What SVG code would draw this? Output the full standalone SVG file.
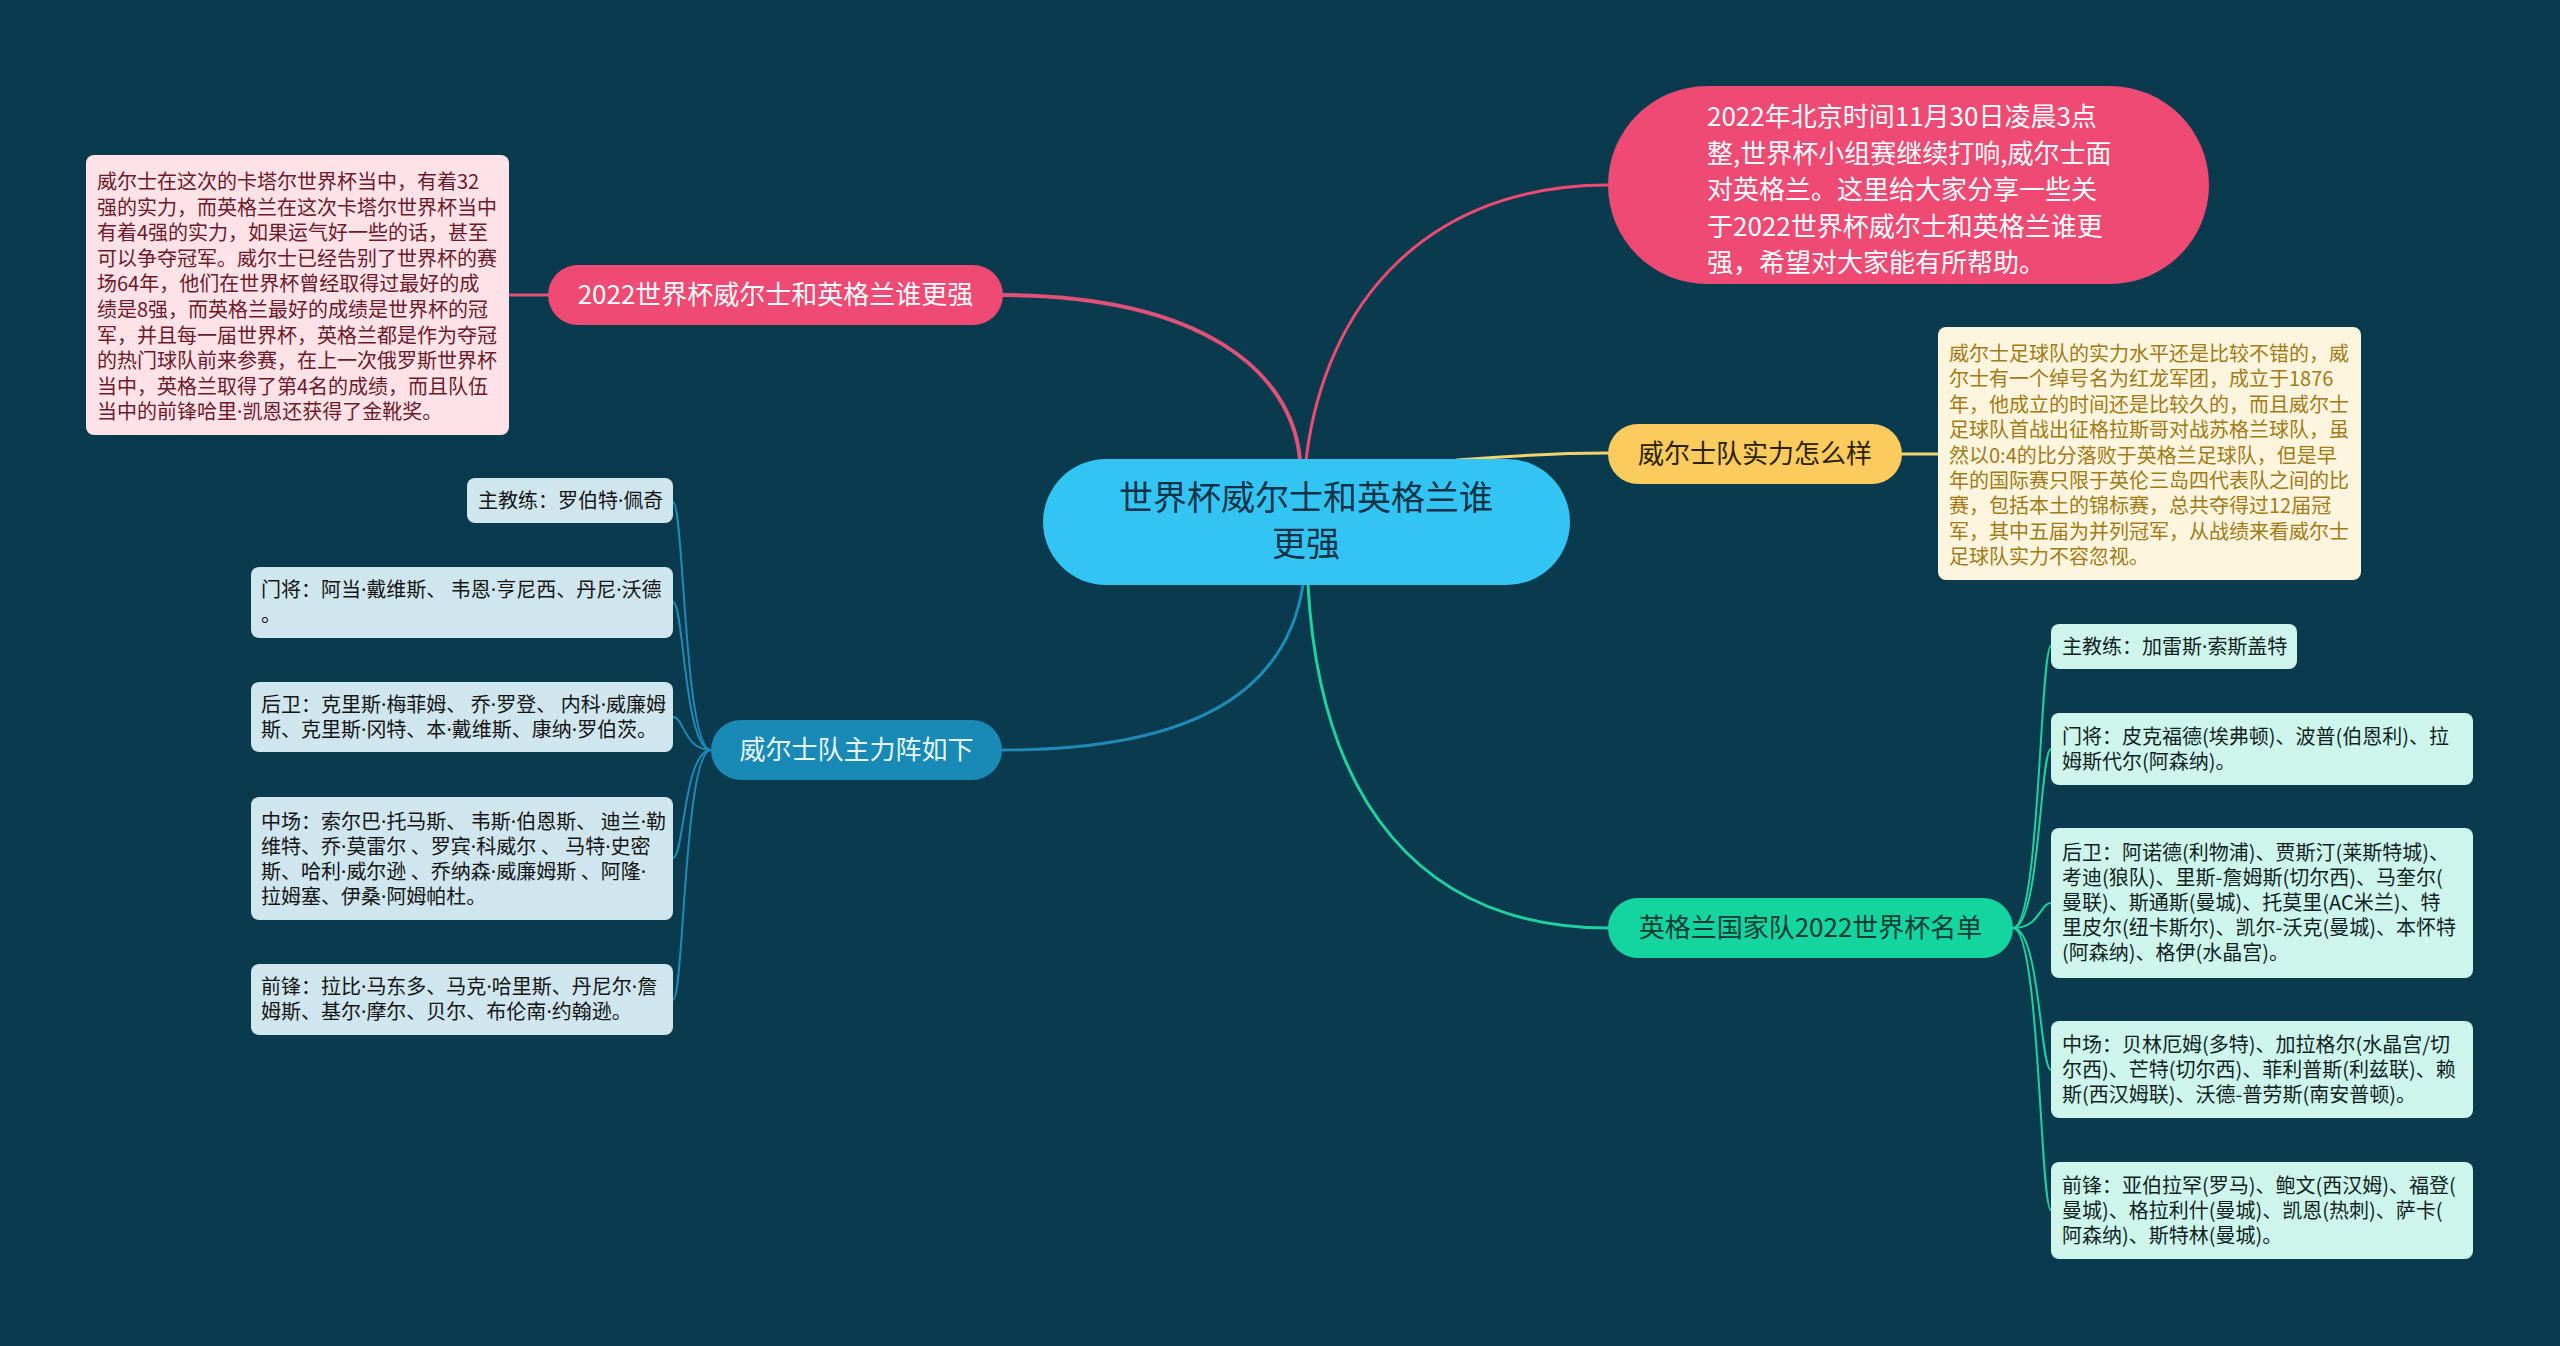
<svg xmlns="http://www.w3.org/2000/svg" width="2560" height="1346" viewBox="0 0 2560 1346">
<style>
text{font-family:"Noto Sans CJK SC","Noto Sans",sans-serif;}
.d{font-family:"Noto Sans","Liberation Sans",sans-serif;}
.t20{font-size:20px;}
.t26{font-size:26px;}
.lb{fill:#cfe6ef;}
.lbt{fill:#141414;}
.rb{fill:#cdf5ec;}
.rbt{fill:#0f1f1f;}
.sub{fill:none;stroke-width:2;}
</style>
<rect x="0" y="0" width="2560" height="1346" fill="#093a4d"/>
<g id="connectors" fill="none" stroke-linecap="round">
  <path d="M1003,295 C1200,296 1292,370 1300,460" stroke="#e0527a" stroke-width="4"/>
  <path d="M1306,460 C1325,300 1430,185 1608,185" stroke="#ee4a73" stroke-width="3"/>
  <path d="M1457,460 C1520,455 1560,453 1608,453" stroke="#f3d36f" stroke-width="3"/>
  <path d="M1303,585 C1285,700 1180,750 1002,750" stroke="#1e8ab6" stroke-width="3"/>
  <path d="M1308,585 C1320,800 1420,928 1609,928" stroke="#1ed2a0" stroke-width="3"/>
  <path d="M548,295 L509,295" stroke="#e0527a" stroke-width="3"/>
  <path d="M1902,454 L1938,454" stroke="#f3d36f" stroke-width="3"/>
  <g class="sub" stroke="#1e8ab6">
    <path d="M711,750 C684,750 684,502 673,502"/>
    <path d="M711,750 C684,750 684,602 673,602"/>
    <path d="M711,750 C684,750 684,717 673,717"/>
    <path d="M711,750 C684,750 684,858 673,858"/>
    <path d="M711,750 C684,750 684,1000 673,1000"/>
  </g>
  <g class="sub" stroke="#1ed2a0">
    <path d="M2013,928 C2040,928 2040,646 2051,646"/>
    <path d="M2013,928 C2040,928 2040,749 2051,749"/>
    <path d="M2013,928 C2040,928 2040,903 2051,903"/>
    <path d="M2013,928 C2040,928 2040,1070 2051,1070"/>
    <path d="M2013,928 C2040,928 2040,1210 2051,1210"/>
  </g>
</g>
<g id="center">
  <rect x="1043" y="459" width="527" height="126" rx="63" fill="#32c5f4"/>
  <text x="1306" y="510" font-size="34" text-anchor="middle" fill="#0e3347">世界杯威尔士和英格兰谁</text>
  <text x="1306" y="556" font-size="34" text-anchor="middle" fill="#0e3347">更强</text>
</g>
<g id="node-2022">
  <rect x="548" y="265" width="455" height="60" rx="30" fill="#ee4a73"/>
  <text class="t26" x="775.5" y="304" text-anchor="middle" fill="#ffffff">2022世界杯威尔士和英格兰谁更强</text>
</g>
<g id="node-2022-detail">
  <rect x="86" y="155" width="423" height="280" rx="8" fill="#fde2e7"/>
  <text class="t20" fill="#6d1a2c">
    <tspan x="97" y="189">威尔士在这次的卡塔尔世界杯当中，有着32</tspan>
    <tspan x="97" y="214.6">强的实力，而英格兰在这次卡塔尔世界杯当中</tspan>
    <tspan x="97" y="240.2">有着4强的实力，如果运气好一些的话，甚至</tspan>
    <tspan x="97" y="265.8">可以争夺冠军。威尔士已经告别了世界杯的赛</tspan>
    <tspan x="97" y="291.4">场64年，他们在世界杯曾经取得过最好的成</tspan>
    <tspan x="97" y="317">绩是8强，而英格兰最好的成绩是世界杯的冠</tspan>
    <tspan x="97" y="342.6">军，并且每一届世界杯，英格兰都是作为夺冠</tspan>
    <tspan x="97" y="368.2">的热门球队前来参赛，在上一次俄罗斯世界杯</tspan>
    <tspan x="97" y="393.8">当中，英格兰取得了第4名的成绩，而且队伍</tspan>
    <tspan x="97" y="419.4">当中的前锋哈里<tspan class="d">·</tspan>凯恩还获得了金靴奖。</tspan>
  </text>
</g>
<g id="node-intro">
  <rect x="1608" y="86" width="601" height="198" rx="99" fill="#ee4a73"/>
  <text class="t26" fill="#ffffff">
    <tspan x="1707" y="126">2022年北京时间11月30日凌晨3点</tspan>
    <tspan x="1707" y="162.5">整,世界杯小组赛继续打响,威尔士面</tspan>
    <tspan x="1707" y="199">对英格兰。这里给大家分享一些关</tspan>
    <tspan x="1707" y="235.5">于2022世界杯威尔士和英格兰谁更</tspan>
    <tspan x="1707" y="272">强，希望对大家能有所帮助。</tspan>
  </text>
</g>
<g id="node-strength">
  <rect x="1608" y="424" width="294" height="60" rx="30" fill="#fbcb5e"/>
  <text class="t26" x="1755" y="463" text-anchor="middle" fill="#2b2000">威尔士队实力怎么样</text>
</g>
<g id="node-strength-detail">
  <rect x="1938" y="327" width="423" height="253" rx="8" fill="#fdf5dd"/>
  <text class="t20" fill="#a27b16">
    <tspan x="1949" y="361">威尔士足球队的实力水平还是比较不错的，威</tspan>
    <tspan x="1949" y="386.4">尔士有一个绰号名为红龙军团，成立于1876</tspan>
    <tspan x="1949" y="411.8">年，他成立的时间还是比较久的，而且威尔士</tspan>
    <tspan x="1949" y="437.2">足球队首战出征格拉斯哥对战苏格兰球队，虽</tspan>
    <tspan x="1949" y="462.6">然以0:4的比分落败于英格兰足球队，但是早</tspan>
    <tspan x="1949" y="488">年的国际赛只限于英伦三岛四代表队之间的比</tspan>
    <tspan x="1949" y="513.4">赛，包括本土的锦标赛，总共夺得过12届冠</tspan>
    <tspan x="1949" y="538.8">军，其中五届为并列冠军，从战绩来看威尔士</tspan>
    <tspan x="1949" y="564.2">足球队实力不容忽视。</tspan>
  </text>
</g>
<g id="node-wales">
  <rect x="711" y="720" width="291" height="60" rx="30" fill="#1989b5"/>
  <text class="t26" x="856.5" y="759" text-anchor="middle" fill="#e6f6ff">威尔士队主力阵如下</text>
</g>
<g id="wales-coach">
  <rect class="lb" x="467" y="478" width="206" height="45" rx="8"/>
  <text class="t20 lbt" x="478" y="507.5">主教练：罗伯特<tspan class="d">·</tspan>佩奇</text>
</g>
<g id="wales-gk">
  <rect class="lb" x="251" y="567" width="422" height="71" rx="8"/>
  <text class="t20 lbt"><tspan x="261" y="597">门将：阿当<tspan class="d">·</tspan>戴维斯、 韦恩<tspan class="d">·</tspan>亨尼西、丹尼<tspan class="d">·</tspan>沃德</tspan><tspan x="261" y="622">。</tspan></text>
</g>
<g id="wales-df">
  <rect class="lb" x="251" y="682" width="422" height="70" rx="8"/>
  <text class="t20 lbt"><tspan x="261" y="711.5">后卫：克里斯<tspan class="d">·</tspan>梅菲姆、 乔<tspan class="d">·</tspan>罗登、 内科<tspan class="d">·</tspan>威廉姆</tspan><tspan x="261" y="736.5">斯、克里斯<tspan class="d">·</tspan>冈特、本<tspan class="d">·</tspan>戴维斯、康纳<tspan class="d">·</tspan>罗伯茨。</tspan></text>
</g>
<g id="wales-mf">
  <rect class="lb" x="251" y="797" width="422" height="123" rx="8"/>
  <text class="t20 lbt"><tspan x="261" y="828.5">中场：索尔巴<tspan class="d">·</tspan>托马斯、 韦斯<tspan class="d">·</tspan>伯恩斯、 迪兰<tspan class="d">·</tspan>勒</tspan><tspan x="261" y="853.5">维特、乔<tspan class="d">·</tspan>莫雷尔 、罗宾<tspan class="d">·</tspan>科威尔 、 马特<tspan class="d">·</tspan>史密</tspan><tspan x="261" y="878.5">斯、哈利<tspan class="d">·</tspan>威尔逊 、乔纳森<tspan class="d">·</tspan>威廉姆斯 、阿隆<tspan class="d">·</tspan></tspan><tspan x="261" y="903.5">拉姆塞、伊桑<tspan class="d">·</tspan>阿姆帕杜。</tspan></text>
</g>
<g id="wales-fw">
  <rect class="lb" x="251" y="964" width="422" height="71" rx="8"/>
  <text class="t20 lbt"><tspan x="261" y="994">前锋：拉比<tspan class="d">·</tspan>马东多、马克<tspan class="d">·</tspan>哈里斯、丹尼尔<tspan class="d">·</tspan>詹</tspan><tspan x="261" y="1019">姆斯、基尔<tspan class="d">·</tspan>摩尔、贝尔、布伦南<tspan class="d">·</tspan>约翰逊。</tspan></text>
</g>
<g id="node-england">
  <rect x="1608" y="898" width="405" height="60" rx="30" fill="#14d5a0"/>
  <text class="t26" x="1810.5" y="937" text-anchor="middle" fill="#0b3a33">英格兰国家队2022世界杯名单</text>
</g>
<g id="eng-coach">
  <rect class="rb" x="2051" y="624" width="246" height="45" rx="8"/>
  <text class="t20 rbt" x="2062" y="653.5">主教练：加雷斯<tspan class="d">·</tspan>索斯盖特</text>
</g>
<g id="eng-gk">
  <rect class="rb" x="2051" y="713" width="422" height="72" rx="8"/>
  <text class="t20 rbt"><tspan x="2062" y="743.5">门将：皮克福德(埃弗顿)、波普(伯恩利)、拉</tspan><tspan x="2062" y="768.5">姆斯代尔(阿森纳)。</tspan></text>
</g>
<g id="eng-df">
  <rect class="rb" x="2051" y="828" width="422" height="150" rx="8"/>
  <text class="t20 rbt"><tspan x="2062" y="860">后卫：阿诺德(利物浦)、贾斯汀(莱斯特城)、</tspan><tspan x="2062" y="885">考迪(狼队)、里斯-詹姆斯(切尔西)、马奎尔(</tspan><tspan x="2062" y="910">曼联)、斯通斯(曼城)、托莫里(AC米兰)、特</tspan><tspan x="2062" y="935">里皮尔(纽卡斯尔)、凯尔-沃克(曼城)、本怀特</tspan><tspan x="2062" y="960">(阿森纳)、格伊(水晶宫)。</tspan></text>
</g>
<g id="eng-mf">
  <rect class="rb" x="2051" y="1021" width="422" height="97" rx="8"/>
  <text class="t20 rbt"><tspan x="2062" y="1051.5">中场：贝林厄姆(多特)、加拉格尔(水晶宫/切</tspan><tspan x="2062" y="1076.5">尔西)、芒特(切尔西)、菲利普斯(利兹联)、赖</tspan><tspan x="2062" y="1101.5">斯(西汉姆联)、沃德-普劳斯(南安普顿)。</tspan></text>
</g>
<g id="eng-fw">
  <rect class="rb" x="2051" y="1162" width="422" height="97" rx="8"/>
  <text class="t20 rbt"><tspan x="2062" y="1192.5">前锋：亚伯拉罕(罗马)、鲍文(西汉姆)、福登(</tspan><tspan x="2062" y="1217.5">曼城)、格拉利什(曼城)、凯恩(热刺)、萨卡(</tspan><tspan x="2062" y="1242.5">阿森纳)、斯特林(曼城)。</tspan></text>
</g>
</svg>
